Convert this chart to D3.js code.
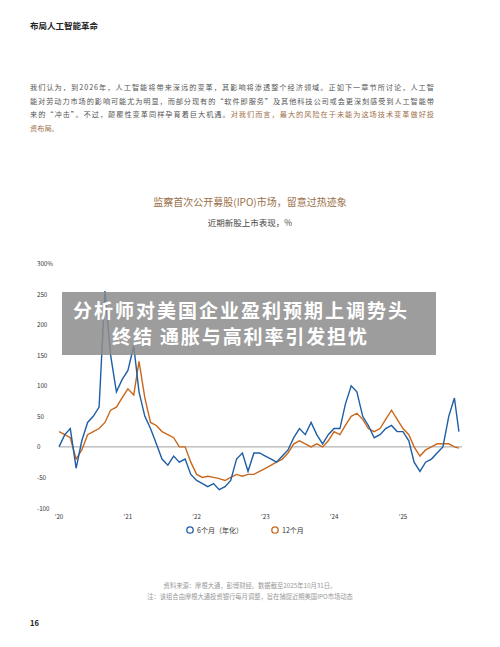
<!DOCTYPE html>
<html><head><meta charset="utf-8">
<script src="https://cdn.jsdelivr.net/npm/d3@7"></script>
<style>body{margin:0;background:#fff;font-family:"Noto Sans CJK SC","Noto Sans",sans-serif}</style>
</head><body><div id="chart"></div>
<script>
var months = d3.range(70).map(function(i){ return new Date(2020, i, 1); });
months.push(new Date(2025, 9, 25));
var sixMonth = [0,20,30,-35,10,40,50,65,255,150,90,110,125,165,90,50,30,5,-20,-30,-15,-25,-20,-45,
  -55,-60,-65,-60,-70,-65,-55,-20,-10,-40,-10,-10,-15,-20,-25,-15,-5,15,30,20,40,20,5,20,
  30,30,70,100,90,50,35,15,20,30,35,25,25,10,-25,-40,-25,-20,-10,0,50,80,25];
var twelveMonth = [25,20,15,-20,-5,20,25,30,40,60,65,80,95,85,140,80,40,35,25,20,15,0,0,-25,
  -45,-50,-48,-50,-52,-55,-50,-45,-48,-45,-45,-40,-35,-30,-25,-20,-10,5,10,5,0,5,0,10,
  25,20,35,50,55,45,30,25,30,45,60,45,30,20,0,-15,-5,0,5,5,5,0,-2];
var yTicks = [300,250,200,150,100,50,0,-50,-100];
var xTickLabels = ["'20","'21","'22","'23","'24","'25"];
var legendLabels = ["6个月（年化）","12个月"];

var width = 500, height = 647;
var blue = '#1d5ea5', orange = '#c9671b';

var svg = d3.select('#chart').append('svg')
  .attr('width', width).attr('height', height);

svg.append('text').attr('x',30).attr('y',29).attr('font-size',8.5).attr('font-weight','bold')
  .attr('fill','#222').text('布局人工智能革命');

var para = [
  [['我们认为，到2026年，人工智能将带来深远的变革，其影响将渗透整个经济领域。正如下一章节所讨论，人工智','#555']],
  [['能对劳动力市场的影响可能尤为明显，而部分现有的“软件即服务”及其他科技公司或会更深刻感受到人工智能带','#555']],
  [['来的“冲击”。不过，颠覆性变革同样孕育着巨大机遇。','#555'],['对我们而言，最大的风险在于未能为这场技术变革做好投','#a0704a']],
  [['资布局。','#a0704a']]
];
para.forEach(function(line, i){
  var t = svg.append('text').attr('x',30).attr('y',90+i*13.7).attr('font-size',7.2)
    .attr('textLength', i<3 ? 404 : null);
  line.forEach(function(s){ t.append('tspan').attr('fill',s[1]).text(s[0]); });
});

svg.append('text').attr('x',250).attr('y',206).attr('text-anchor','middle').attr('font-size',10)
  .attr('fill','#9a7048').text('监察首次公开募股(IPO)市场，留意过热迹象');
svg.append('text').attr('x',250).attr('y',226).attr('text-anchor','middle').attr('font-size',8.5)
  .attr('fill','#444').text('近期新股上市表现，%');

var x = d3.scaleTime().domain([new Date(2020,0,1), new Date(2025,0,1)]).range([59,403]);
var y = d3.scaleLinear().domain([-100,300]).range([508,263.5]);

svg.selectAll('.yl').data(yTicks).enter().append('text')
  .attr('x',37).attr('y',function(d){return y(d)+2.5;}).attr('font-size',6.2).attr('fill','#333')
  .text(function(d){return d===300?'300%':d;});
svg.selectAll('.xl').data(xTickLabels).enter().append('text')
  .attr('x',function(d,i){return x(new Date(2020+i,0,1));}).attr('y',519)
  .attr('text-anchor','middle').attr('font-size',6.2).attr('fill','#333').text(function(d){return d;});

svg.append('line').attr('x1',59).attr('x2',462).attr('y1',y(0)).attr('y2',y(0))
  .attr('stroke','#888').attr('stroke-width',0.8);

var line = d3.line().x(function(d,i){return x(months[i]);}).y(function(d){return y(d);});
svg.append('path').datum(twelveMonth).attr('d',line).attr('fill','none').attr('stroke',orange).attr('stroke-width',1.4);
svg.append('path').datum(sixMonth).attr('d',line).attr('fill','none').attr('stroke',blue).attr('stroke-width',1.4);

[[blue,190,legendLabels[0]],[orange,275,legendLabels[1]]].forEach(function(l){
  svg.append('circle').attr('cx',l[1]).attr('cy',530).attr('r',3.2).attr('fill','none')
    .attr('stroke',l[0]).attr('stroke-width',1.3);
  svg.append('text').attr('x',l[1]+7).attr('y',533).attr('font-size',7).attr('fill','#333').text(l[2]);
});

svg.append('text').attr('x',250).attr('y',588).attr('text-anchor','middle').attr('font-size',6.3)
  .attr('fill','#999').text('资料来源：摩根大通，彭博财经。数据截至2025年10月31日。');
svg.append('text').attr('x',250).attr('y',599).attr('text-anchor','middle').attr('font-size',6.3)
  .attr('fill','#999').text('注：该组合由摩根大通投资银行每月调整，旨在捕捉近期美国IPO市场动态');
svg.append('text').attr('x',30).attr('y',626).attr('font-size',7.5).attr('font-weight','bold')
  .attr('fill','#222').text('16');

svg.append('rect').attr('x',62).attr('y',292).attr('width',374).attr('height',63)
  .attr('fill','#8c8c8c').attr('opacity',0.85);
svg.append('text').attr('x',73).attr('y',318).attr('font-size',19)
  .attr('textLength',334).attr('font-weight','bold').attr('fill','#fff').text('分析师对美国企业盈利预期上调势头');
svg.append('text').attr('x',112).attr('y',344).attr('font-size',19)
  .attr('textLength',255).attr('font-weight','bold').attr('fill','#fff').text('终结 通胀与高利率引发担忧');
</script></body></html>
